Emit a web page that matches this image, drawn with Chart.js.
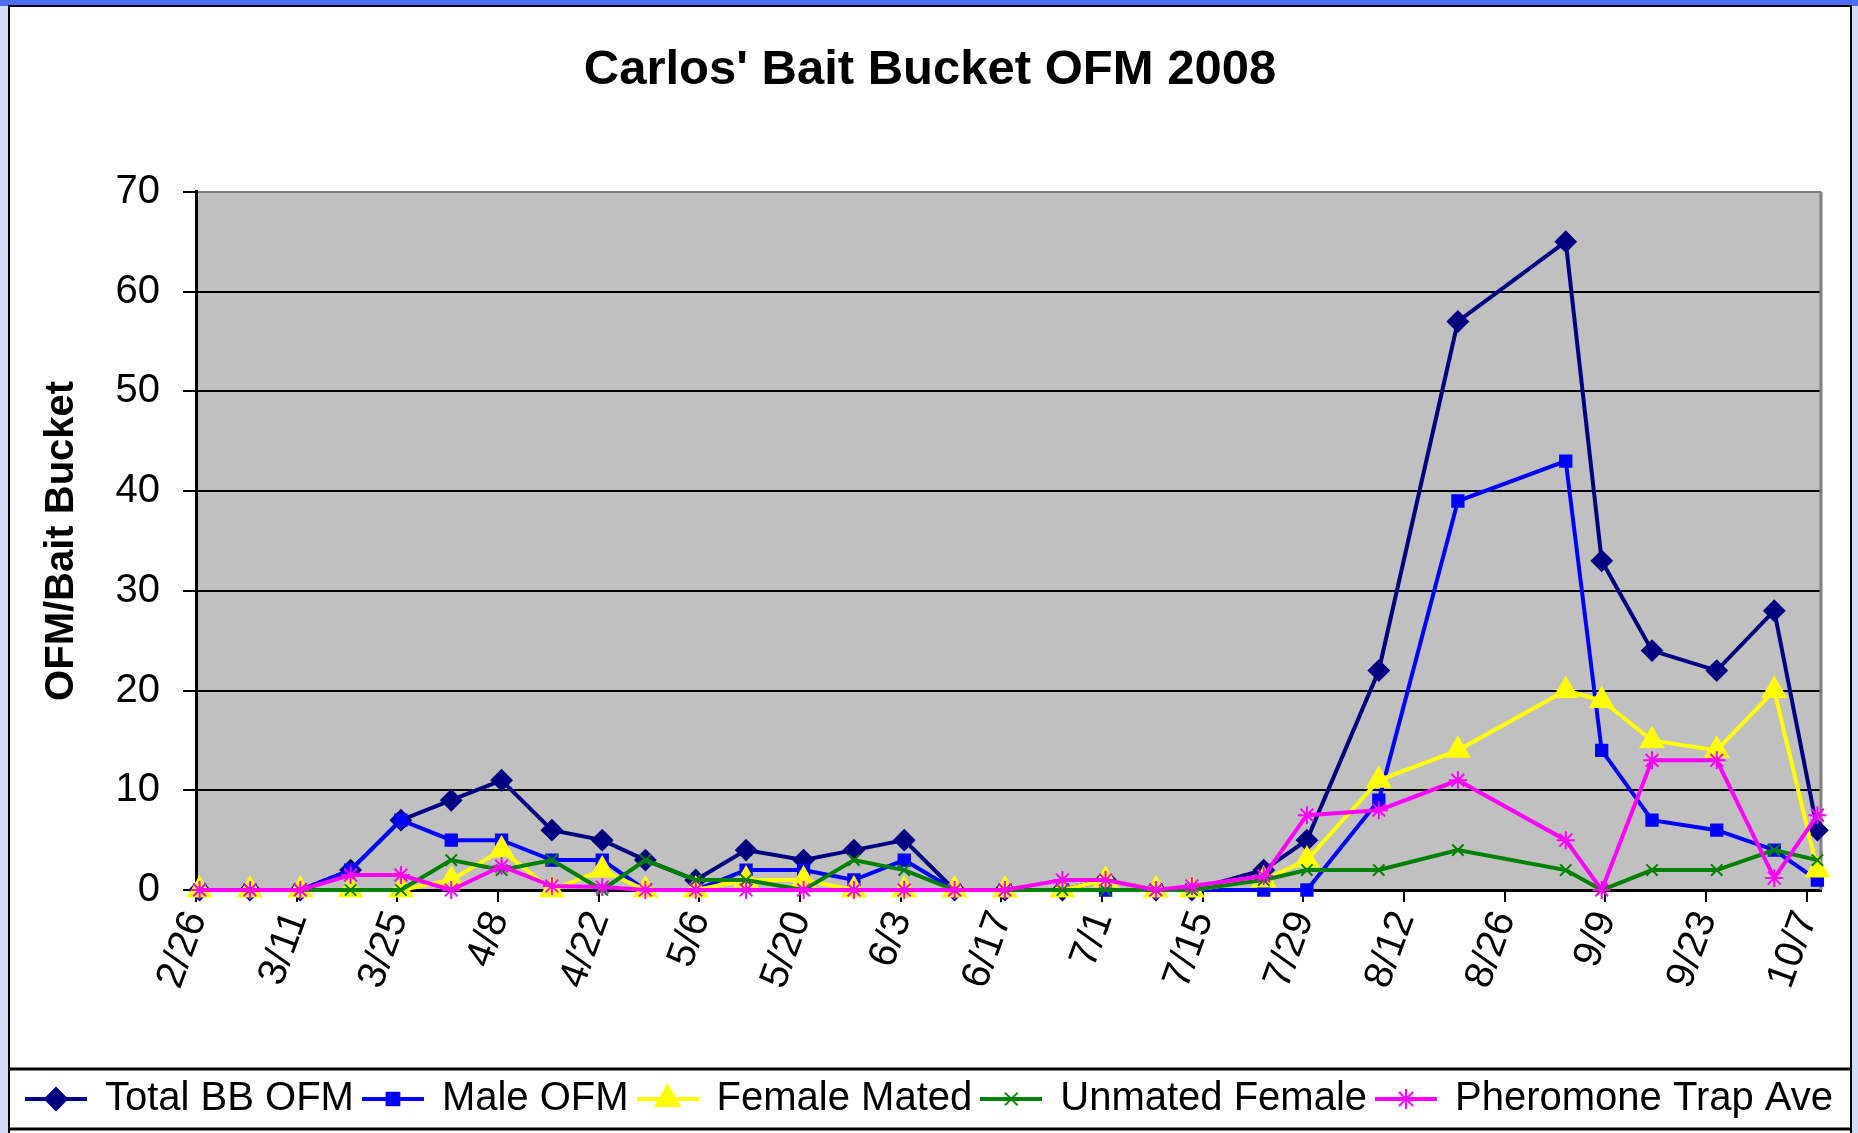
<!DOCTYPE html>
<html>
<head>
<meta charset="utf-8">
<title>Carlos' Bait Bucket OFM 2008</title>
<script src="https://cdn.jsdelivr.net/npm/chart.js@4"></script>
<style>
    html, body { margin: 0; padding: 0; }
    body {
        width: 1858px;
        height: 1133px;
        overflow: hidden;
        position: relative;
        background: linear-gradient(to right, #d3dcf4, #f3f1fa 30%, #f3f1fa 70%, #d3dcf4);
    }
    #top-band { position: absolute; left: 0; top: 0; width: 1858px; height: 6px; background: #4b6ff2; }
    #frame {
        position: absolute;
        left: 8px;
        top: 5px;
        width: 1840px;
        height: 1140px;
        border: 2px solid #000;
        background: #fff;
    }
    #frame canvas { display: block; }
</style>
</head>
<body>
<div id="top-band"></div>
<div id="frame">
    <canvas id="ofm-chart" width="1840" height="1126"></canvas>
</div>
<script>
/* =================================
  data
==================================== */
const dates = ['2/26', '3/4', '3/11', '3/18', '3/25', '4/1', '4/8', '4/15', '4/22', '4/28',
    '5/5', '5/12', '5/20', '5/27', '6/3', '6/10', '6/17', '6/25', '7/1', '7/8',
    '7/13', '7/23', '7/29', '8/8', '8/19', '9/3', '9/8', '9/15', '9/24', '10/2', '10/8'];
const totalOFM = [0, 0, 0, 2, 7, 9, 11, 6, 5, 3, 1, 4, 3, 4, 5, 0, 0, 0, 1, 0, 0, 2, 5, 22, 57, 65, 33, 24, 22, 28, 6];
const maleOFM = [0, 0, 0, 2, 7, 5, 5, 3, 3, 0, 0, 2, 2, 1, 3, 0, 0, 0, 0, 0, 0, 0, 0, 9, 39, 43, 14, 7, 6, 4, 1];
const femaleMated = [0, 0, 0, 0, 0, 1, 4, 0, 2, 0, 0, 1, 1, 0, 0, 0, 0, 0, 1, 0, 0, 1, 3, 11, 14, 20, 19, 15, 14, 20, 2];
const unmatedFemale = [0, 0, 0, 0, 0, 3, 2, 3, 0, 3, 1, 1, 0, 3, 2, 0, 0, 0, 0, 0, 0, 1, 2, 2, 4, 2, 0, 2, 2, 4, 3];
const pheromoneAve = [0, 0, 0, 1.5, 1.5, 0, 2.4, 0.4, 0.3, 0, 0, 0, 0, 0, 0, 0, 0, 1, 1, 0, 0.4, 1.4, 7.5, 8, 11, 5, 0, 13, 13, 1.2, 7.5];
const xTickLabels = ['2/26', '3/11', '3/25', '4/8', '4/22', '5/6', '5/20', '6/3', '6/17',
    '7/1', '7/15', '7/29', '8/12', '8/26', '9/9', '9/23', '10/7'];

const FONT = "'Liberation Sans', Arial, sans-serif";
const chartCanvas = document.getElementById('ofm-chart');

// days since 2/26/2008
function dayOf(md) {
    const [m, d] = md.split('/').map(Number);
    return Math.round((Date.UTC(2008, m - 1, d) - Date.UTC(2008, 1, 26)) / 86400000);
}
const days = dates.map(dayOf);
function points(values) {
    return values.map((v, i) => ({ x: days[i], y: v }));
}

/* =================================
  datasets
==================================== */
function series(label, values, color, style, radius, order) {
    return {
        label: label,
        data: points(values),
        borderColor: color,
        backgroundColor: color,
        pointBackgroundColor: color,
        pointBorderColor: color,
        pointStyle: style,
        pointRadius: radius,
        pointBorderWidth: 2,
        borderWidth: 4,
        tension: 0,
        clip: false,
        order: order
    };
}

let ofmData = {
    datasets: [
        series('Total BB OFM', totalOFM, '#000080', 'rectRot', 10, 5),
        series('Male OFM', maleOFM, '#0000FF', 'rect', 8, 4),
        series('Female Mated', femaleMated, '#FFFF00', 'triangle', 13, 3),
        series('Unmated Female', unmatedFemale, '#008000', 'crossRot', 8, 2),
        series('Pheromone Trap Ave', pheromoneAve, '#FF00FF', 'star', 9, 1)
    ]
};

// little line + marker pictures for the legend
function legendSwatch(ds) {
    const c = document.createElement('canvas');
    c.width = 62;
    c.height = 36;
    const ctx = c.getContext('2d');
    ctx.strokeStyle = ds.borderColor;
    ctx.lineWidth = 4;
    ctx.beginPath();
    ctx.moveTo(0, 18);
    ctx.lineTo(62, 18);
    ctx.stroke();
    ctx.fillStyle = ds.pointBackgroundColor;
    ctx.strokeStyle = ds.pointBorderColor;
    ctx.lineWidth = 2;
    Chart.helpers.drawPoint(ctx, { pointStyle: ds.pointStyle, radius: ds.pointRadius + 1, borderWidth: 2, rotation: 0 }, 31, 18);
    return c;
}
const swatches = ofmData.datasets.map(legendSwatch);

/* =================================
  plugins
==================================== */
const excelLook = {
    id: 'excelLook',
    beforeInit(chart) {
        const fit = chart.legend.fit;
        chart.legend.fit = function () {
            fit.call(this);
            this.height = 60;
        };
    },
    beforeDraw(chart) {
        const { ctx, chartArea: a } = chart;
        ctx.save();
        ctx.fillStyle = '#c0c0c0';
        ctx.fillRect(a.left, a.top, a.width, a.height);
        ctx.restore();
    },
    beforeDatasetsDraw(chart) {
        const { ctx, chartArea: a } = chart;
        ctx.save();
        ctx.strokeStyle = '#808080';
        ctx.lineWidth = 3;
        ctx.beginPath();
        ctx.moveTo(a.right, a.top);
        ctx.lineTo(a.right, a.bottom);
        ctx.stroke();
        ctx.restore();
    },
    afterDraw(chart) {
        const { ctx, legend } = chart;
        ctx.save();
        ctx.strokeStyle = '#000';
        ctx.lineWidth = 3;
        ctx.beginPath();
        ctx.moveTo(0, legend.top);
        ctx.lineTo(chart.width, legend.top);
        ctx.moveTo(0, legend.bottom);
        ctx.lineTo(chart.width, legend.bottom);
        ctx.stroke();
        ctx.restore();
    }
};

/* =================================
  options
==================================== */
let ofmOptions = {
    responsive: false,
    animation: false,
    layout: {
        padding: { left: 0, right: 0, top: 0, bottom: 4 }
    },
    scales: {
        x: {
            type: 'linear',
            min: -0.5,
            max: days[days.length - 1] + 0.5,
            afterBuildTicks: (scale) => {
                scale.ticks = xTickLabels.map((t, i) => ({ value: -0.5 + 14 * i }));
            },
            afterFit: (scale) => {
                scale.height = 179;
                scale.paddingRight = 0;
            },
            grid: {
                drawOnChartArea: false,
                drawTicks: true,
                tickLength: 12,
                color: '#000',
                lineWidth: 2
            },
            border: { color: '#000', width: 3 },
            ticks: {
                autoSkip: false,
                maxRotation: 70,
                minRotation: 70,
                padding: 3,
                color: '#000',
                font: { family: FONT, size: 40 },
                callback: (value, index) => xTickLabels[index]
            }
        },
        y: {
            min: 0,
            max: 70,
            afterFit: (scale) => { scale.width = 186; },
            grid: {
                color: (c) => (c.tick && c.tick.value === 70 ? '#808080' : '#000'),
                tickColor: '#000',
                lineWidth: 2,
                tickLength: 13
            },
            border: { color: '#000', width: 3 },
            ticks: {
                stepSize: 10,
                padding: 23,
                color: '#000',
                font: { family: FONT, size: 40 }
            },
            title: {
                display: true,
                text: 'OFM/Bait Bucket',
                color: '#000',
                font: { family: FONT, size: 40, weight: 'bold' },
                padding: { top: 28, bottom: 0 }
            }
        },
        // empty strip on the right, keeps title and legend centred on the page
        yRight: {
            position: 'right',
            display: true,
            afterFit: (scale) => { scale.width = 29; },
            grid: { display: false },
            border: { display: false },
            ticks: { display: false }
        }
    },
    plugins: {
        title: {
            display: true,
            text: "Carlos' Bait Bucket OFM 2008",
            color: '#000',
            font: { family: FONT, size: 49, weight: 'bold' },
            padding: { top: 34, bottom: 92 }
        },
        legend: {
            position: 'bottom',
            labels: {
                usePointStyle: true,
                pointStyleWidth: 58,
                padding: 10,
                color: '#000',
                font: { family: FONT, size: 40 },
                generateLabels: (chart) => chart.data.datasets.map((ds, i) => ({
                    text: ds.label,
                    pointStyle: swatches[i],
                    datasetIndex: i,
                    hidden: false,
                    fontColor: '#000',
                    lineWidth: 0,
                    strokeStyle: 'rgba(0,0,0,0)',
                    fillStyle: 'rgba(0,0,0,0)'
                }))
            }
        },
        tooltip: { enabled: false }
    }
};

/* =================================
  chart
==================================== */
let ofmChart = new Chart(chartCanvas, {
    type: 'line',
    data: ofmData,
    options: ofmOptions,
    plugins: [excelLook]
});
</script>
</body>
</html>
